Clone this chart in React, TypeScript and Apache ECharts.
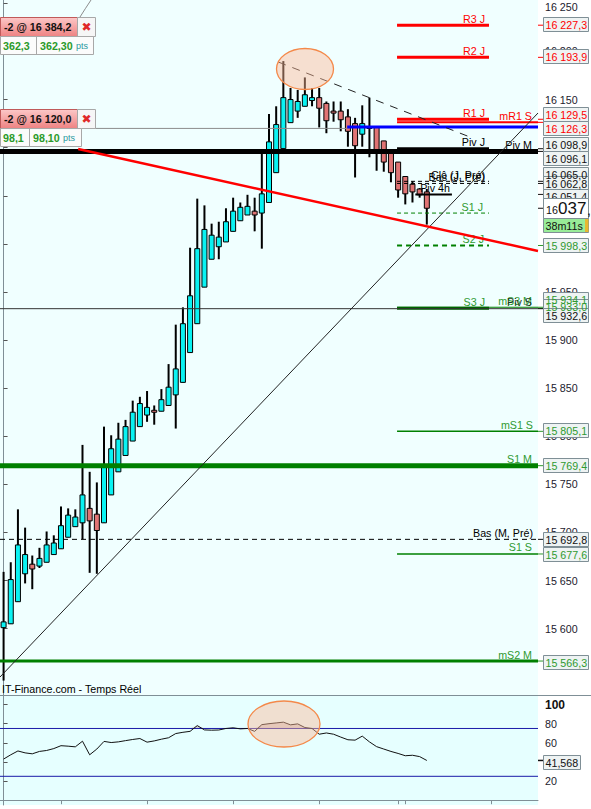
import React, { useEffect, useRef } from 'react';
import * as echarts from 'echarts';

// ---------- data ----------
const slots = Array.from({ length: 75 }, (_, i) => `P${i + 1}`);

const opens = [15601, 15605, 15628, 15657, 15667, 15665, 15669, 15677, 15683, 15695, 15706, 15710, 15725, 15719, 15710, 15739, 15763, 15780, 15795, 15810, 15822, 15827, 15826, 15832, 15843, 15856, 15887, 15917, 15955, 15984, 15997, 16002, 16013, 16024, 16030, 16034, 16032, 16043, 16074, 16099, 16126, 16138, 16143, 16149, 16152, 16146, 16138, 16138, 16132, 16125, 16114, 16121, 16121, 16107, 16096, 16085, 16070, 16062, 16057, 16054];
const closes = [15607, 15651, 15687, 15677, 15662, 15673, 15687, 15689, 15707, 15718, 15716, 15739, 15712, 15702, 15768, 15787, 15797, 15810, 15825, 15834, 15830, 15825, 15838, 15851, 15870, 15917, 15946, 15995, 16015, 16009, 16007, 16023, 16034, 16038, 16039, 16030, 16052, 16106, 16124, 16152, 16150, 16148, 16155, 16152, 16141, 16128, 16137, 16129, 16117, 16102, 16125, 16122, 16096, 16085, 16074, 16056, 16052, 16054, 16051, 16037];
const lows = [15546, 15605, 15628, 15647, 15641, 15663, 15669, 15677, 15683, 15695, 15706, 15693, 15658, 15657, 15710, 15739, 15763, 15780, 15795, 15810, 15815, 15812, 15826, 15832, 15808, 15856, 15887, 15917, 15955, 15984, 15984, 16002, 16013, 16024, 16030, 16013, 15995, 16043, 16074, 16099, 16126, 16131, 16143, 16143, 16121, 16115, 16127, 16117, 16101, 16069, 16101, 16090, 16076, 16075, 16064, 16048, 16041, 16043, 16048, 16020];
const highs = [15659, 15669, 15724, 15705, 15676, 15684, 15701, 15697, 15727, 15725, 15724, 15791, 15763, 15752, 15810, 15801, 15814, 15817, 15837, 15841, 15847, 15832, 15849, 15875, 15916, 15934, 15996, 16047, 16040, 16021, 16023, 16037, 16048, 16043, 16051, 16048, 16096, 16135, 16143, 16190, 16162, 16160, 16173, 16162, 16162, 16148, 16148, 16148, 16140, 16131, 16144, 16152, 16121, 16107, 16096, 16085, 16070, 16065, 16058, 16057];

const rsi = [43, 47.5, 51.5, 49.5, 48.5, 51, 52, 54, 57, 56.5, 55.8, 61.7, 47.5, 53.5, 61.5, 60.3, 61, 62.3, 63.5, 64.5, 60.7, 62, 63.8, 65.3, 69.7, 71, 72, 78, 73.5, 73.2, 73.4, 75, 75.7, 74.6, 75, 72, 79, 80, 80.8, 81.6, 78.8, 79.8, 76, 75, 69, 70.3, 69, 66, 63.2, 62.8, 67, 61, 56, 53.5, 51, 48.9, 46.5, 47, 45.6, 41.568];
const rsiBands = [75, 25];

const priceTicks = [15600, 15650, 15700, 15750, 15800, 15850, 15900, 15950, 16000, 16050, 16100, 16150, 16200, 16250];
const rsiTicks = [20, 40, 60, 80, 100];
const sessionTicks = [8, 20, 32, 44, 55, 56, 68];

const levelNames = ['R3 J', 'R2 J', 'R1 J', 'mR1 S', 'Piv J', 'Piv M', 'Clô (J, Pré)', 'Bas (J, Pré)', 'Piv 4h', 'S1 J', 'S2 J', 'mS3 M', 'S3 J', 'Piv S', 'mS1 S', 'S1 M', 'Bas (M, Pré)', 'S1 S', 'mS2 M'];
const levelValues = [16227.3, 16193.9, 16129.5, 16126.3, 16098.9, 16096.1, 16065.0, 16062.8, 16051.4, 16032.0, 15998.3, 15934.1, 15933.0, 15932.6, 15805.1, 15769.4, 15692.8, 15677.6, 15566.3];

const orderQty = [-2, -2];
const orderPrices = [16384.2, 16120.0];
const orderGains = [362.3, 98.1];

const blueLevel = 16121.5;
const supportX = [-0.5, 74.5];
const supportY = [15549.7, 16136.0];
const resistX = [10.4, 74.5];
const resistY = [16098.6, 15992.6];
const topLineX = [38.3, 65.0];
const topLineY = [16189.0, 16111.1];

const countdown = '38m11s';

// ---------- styles / layout ----------
const FONT = '"Liberation Sans", Arial, sans-serif';
const FS = 10.7;
const RED = '#ff0000';
const BLACK = '#000000';
const GREEN = '#008000';
const GREEN_TXT = '#2f9a2f';
const PRICE_MIN = 15531;
const PRICE_MAX = 16253.5;
const PLOT_W = 538;

const SPAN_J = [54.85, 67.67];
const SPAN_S = [54.85, 74.5];
const SPAN_FULL = [-0.5, 74.5];
const SPAN_4H = [57.4, 62.5];

type LStyle = { color: string; width: number; dash?: number[]; span: number[]; text: string; dx: number };
const levelStyles: LStyle[] = [
  { color: RED, width: 3, span: SPAN_J, text: RED, dx: -4 },
  { color: RED, width: 3, span: SPAN_J, text: RED, dx: -4 },
  { color: RED, width: 3, span: SPAN_J, text: RED, dx: -4 },
  { color: RED, width: 2, span: SPAN_S, text: RED, dx: -6 },
  { color: BLACK, width: 3, span: SPAN_J, text: BLACK, dx: -4 },
  { color: BLACK, width: 5, span: SPAN_FULL, text: BLACK, dx: -6 },
  { color: BLACK, width: 1, dash: [4, 3], span: SPAN_J, text: BLACK, dx: -4 },
  { color: BLACK, width: 1, dash: [4, 3], span: SPAN_J, text: BLACK, dx: -4 },
  { color: BLACK, width: 2, span: SPAN_4H, text: BLACK, dx: -2 },
  { color: GREEN, width: 1, dash: [4, 3], span: SPAN_J, text: GREEN_TXT, dx: -6 },
  { color: GREEN, width: 2, dash: [5, 4], span: SPAN_J, text: GREEN_TXT, dx: -5 },
  { color: GREEN, width: 1, span: SPAN_S, text: GREEN_TXT, dx: -6 },
  { color: '#006400', width: 3, span: SPAN_J, text: GREEN_TXT, dx: -4 },
  { color: '#333333', width: 1, span: SPAN_FULL, text: '#1a3a1a', dx: -6 },
  { color: GREEN, width: 1.5, span: SPAN_S, text: GREEN_TXT, dx: -5 },
  { color: GREEN, width: 5, span: SPAN_FULL, text: GREEN_TXT, dx: -6 },
  { color: BLACK, width: 1, dash: [5, 4], span: SPAN_FULL, text: BLACK, dx: -5 },
  { color: GREEN, width: 1.5, span: SPAN_S, text: GREEN_TXT, dx: -6 },
  { color: GREEN, width: 3, span: SPAN_FULL, text: GREEN_TXT, dx: -6 },
];
// top edge of each price tag on the right scale (stacked so they do not collide)
const tagTops: Record<number, number> = { 0: 17, 1: 49, 2: 107, 3: 121, 4: 137, 5: 151, 6: 167, 7: 176, 8: 189, 10: 238, 11: 292, 12: 299, 13: 308, 14: 423, 15: 458, 16: 532, 17: 547, 18: 655 };

// ---------- helpers ----------
const group3 = (s: string) => s.replace(/\B(?=(\d{3})+(?!\d))/g, ' ');
const fmtInt = (v: number) => group3(String(Math.round(v)));
const fmtDec = (v: number, d: number) => {
  const [i, f] = v.toFixed(d).split('.');
  return group3(i) + (f ? ',' + f : '');
};

function buildOption(): any {
  const levelSeries = levelNames.map((name, k) => {
    const st = levelStyles[k];
    const v = levelValues[k];
    return {
      type: 'line',
      name,
      xAxisIndex: 1,
      yAxisIndex: 0,
      z: 3,
      silent: true,
      symbol: 'circle',
      symbolSize: 0.01,
      itemStyle: { color: 'transparent' },
      lineStyle: { color: st.color, width: st.width, type: st.dash ? st.dash : 'solid' },
      data: [
        [st.span[0], v],
        {
          value: [st.span[1], v],
          label: {
            show: true,
            position: 'top',
            align: 'right',
            distance: 1,
            offset: [st.dx, 0],
            formatter: name,
            color: st.text,
            fontSize: FS,
            fontFamily: FONT,
          },
        },
      ],
    };
  });

  const plainLine = (xs: number[], ys: number[], color: string, width: number, dash?: number[], z = 4) => ({
    type: 'line',
    xAxisIndex: 1,
    yAxisIndex: 0,
    z,
    silent: true,
    showSymbol: false,
    symbol: 'none',
    lineStyle: { color, width, type: dash ? dash : 'solid' },
    data: xs.map((x, i) => [x, ys[i]]),
  });

  const candleData = opens.map((o, i) => [i, o, closes[i], lows[i], highs[i]]);

  return {
    animation: false,
    backgroundColor: '#ffffff',
    textStyle: { fontFamily: FONT },
    grid: [
      { left: 0, top: 0, width: PLOT_W, height: 695, show: true, backgroundColor: '#f0ffff', borderWidth: 0, outerBoundsMode: 'none', containLabel: false },
      { left: 0, top: 695, width: PLOT_W, height: 110, show: true, backgroundColor: '#e6ffff', borderWidth: 0, outerBoundsMode: 'none', containLabel: false },
    ],
    xAxis: [
      { type: 'category', gridIndex: 0, data: slots, boundaryGap: true, show: false },
      { type: 'value', gridIndex: 0, min: -0.5, max: 74.5, show: false },
      {
        type: 'value', gridIndex: 1, min: -0.5, max: 74.5, position: 'bottom',
        axisLine: { show: true, lineStyle: { color: '#7f8f96' } },
        axisTick: { show: true, customValues: sessionTicks, length: 4, lineStyle: { color: '#7f8f96' } },
        axisLabel: { show: false },
        splitLine: { show: false },
      },
    ],
    yAxis: [
      {
        type: 'value', gridIndex: 0, position: 'right', min: PRICE_MIN, max: PRICE_MAX,
        axisLine: { show: true, lineStyle: { color: '#7f8f96' } },
        axisTick: { show: true, customValues: priceTicks, length: 4, lineStyle: { color: '#555' } },
        axisLabel: {
          show: true, customValues: priceTicks, margin: 7, color: '#1c1a2e', fontSize: FS, fontFamily: FONT,
          // the top value sits on the edge, nudge it down so it stays readable
          formatter: (v: number) => (v >= PRICE_MAX - 10 ? `{t|${fmtInt(v)}}` : fmtInt(v)),
          rich: { t: { padding: [7, 0, 0, 0], fontSize: FS, fontFamily: FONT, color: '#1c1a2e' } },
        },
        splitLine: { show: false },
      },
      {
        type: 'value', gridIndex: 1, position: 'right', min: -5, max: 110,
        axisLine: { show: true, lineStyle: { color: '#7f8f96' } },
        axisTick: { show: true, customValues: rsiTicks, length: 4, lineStyle: { color: '#555' } },
        axisLabel: {
          show: true, customValues: rsiTicks, margin: 7, color: '#1c1a2e', fontSize: FS, fontFamily: FONT,
          formatter: (v: number) => (v === 100 ? `{b|${v}}` : String(v)),
          rich: { b: { fontWeight: 'bold', fontSize: 12, color: '#111', fontFamily: FONT } },
        },
        splitLine: { show: false },
      },
    ],
    series: [
      {
        type: 'custom',
        name: 'DAX',
        xAxisIndex: 0,
        yAxisIndex: 0,
        z: 2,
        silent: true,
        encode: { x: 0, y: [1, 2, 3, 4] },
        data: candleData,
        renderItem: (_p: any, api: any) => {
          const i = api.value(0);
          const o = api.value(1);
          const c = api.value(2);
          const l = api.value(3);
          const h = api.value(4);
          const pO = api.coord([i, o]);
          const pC = api.coord([i, c]);
          const pH = api.coord([i, h]);
          const pL = api.coord([i, l]);
          const x = pO[0];
          const top = Math.min(pO[1], pC[1]);
          const bot = Math.max(pO[1], pC[1]);
          return {
            type: 'group',
            children: [
              { type: 'line', shape: { x1: x, y1: pH[1], x2: x, y2: pL[1] }, style: { stroke: '#000', lineWidth: 2 } },
              {
                type: 'rect',
                shape: { x: x - 2.5, y: top, width: 5, height: Math.max(bot - top, 2) },
                style: { fill: c >= o ? '#0af2f2' : '#e07474', stroke: '#000', lineWidth: 1 },
              },
            ],
          };
        },
      },
      plainLine([-0.5, 47.9], [orderPrices[1], orderPrices[1]], '#8c8c8c', 1, undefined, 3),
      plainLine([47.9, 74.5], [blueLevel, blueLevel], '#0000ff', 3, undefined, 3),
      ...levelSeries,
      plainLine(supportX, supportY, '#222222', 1, undefined, 5),
      plainLine(resistX, resistY, '#ff0000', 2.5, undefined, 5),
      plainLine(topLineX, topLineY, '#222222', 1, [8, 7], 5),
      // RSI panel
      {
        type: 'line', xAxisIndex: 2, yAxisIndex: 1, silent: true, symbol: 'none', z: 2,
        lineStyle: { width: 0 },
        areaStyle: { origin: rsiBands[0], color: 'rgba(150,70,70,0.32)' },
        data: rsi.map((v, i) => [i, Math.max(v, rsiBands[0])]),
      },
      ...rsiBands.map((b) => ({
        type: 'line', xAxisIndex: 2, yAxisIndex: 1, silent: true, symbol: 'none', z: 3,
        lineStyle: { color: '#1a1aa8', width: 1 },
        data: [[-0.5, b], [74.5, b]],
      })),
      {
        type: 'line', name: 'RSI', xAxisIndex: 2, yAxisIndex: 1, silent: true, symbol: 'none', z: 4,
        lineStyle: { color: '#111', width: 1 },
        data: rsi.map((v, i) => [i, v]),
      },
    ],
  };
}

function buildGraphics(chart: any): any[] {
  const yPrice = (v: number) => chart.convertToPixel({ yAxisIndex: 0 }, v);
  const yRsi = (v: number) => chart.convertToPixel({ yAxisIndex: 1 }, v);
  const els: any[] = [];
  const Z = 100;

  // panel separator and caption
  els.push({ type: 'line', z: Z, shape: { x1: 0, y1: 695.5, x2: 591, y2: 695.5 }, style: { stroke: '#7f8f96', lineWidth: 1 } });
  els.push({ type: 'text', z: Z, style: { text: 'IT-Finance.com - Temps Réel', x: 2, y: 689, font: `${FS}px ${FONT}`, fill: '#000', textVerticalAlign: 'middle', verticalAlign: 'middle' } });

  // highlight ellipses
  const ell = (cx: number, cy: number, rx: number, ry: number) => ({
    type: 'ellipse', z: Z - 10, shape: { cx, cy, rx, ry },
    style: { fill: 'rgba(252,185,150,0.45)', stroke: '#f4894a', lineWidth: 1.3 },
  });
  els.push(ell(305, 69, 28.5, 20.5));
  els.push(ell(284, 724, 36, 23));

  // price tags on the right scale
  const tagColor = (k: number) => (k <= 3 ? RED : [4, 5, 6, 7, 8, 13, 16].includes(k) ? '#111' : GREEN_TXT);
  Object.keys(tagTops).map(Number).sort((a, b) => a - b).forEach((k) => {
    const top = tagTops[k];
    const col = tagColor(k);
    const yv = yPrice(levelValues[k]);
    els.push({ type: 'line', z: Z, shape: { x1: 538, y1: yv, x2: 543, y2: yv }, style: { stroke: col, lineWidth: 1 } });
    els.push({ type: 'rect', z: Z, shape: { x: 543.5, y: top + 0.5, width: 45, height: 14 }, style: { fill: '#eef3f3', stroke: '#7f8f96', lineWidth: 1 } });
    els.push({ type: 'text', z: Z + 1, style: { text: fmtDec(levelValues[k], 1), x: 545.5, y: top + 8, font: `${FS}px ${FONT}`, fill: col, textVerticalAlign: 'middle', verticalAlign: 'middle' } });
  });

  // last price tag
  const last = closes[closes.length - 1];
  const lastStr = fmtInt(last).split(' ');
  const yl = yPrice(last);
  els.push({ type: 'line', z: Z, shape: { x1: 538, y1: yl, x2: 543, y2: yl }, style: { stroke: '#111', lineWidth: 1 } });
  els.push({ type: 'rect', z: Z + 2, shape: { x: 543.5, y: 198.5, width: 45, height: 20 }, style: { fill: '#ffffff', stroke: '#7f8f96', lineWidth: 1 } });
  els.push({ type: 'text', z: Z + 3, style: { text: lastStr[0], x: 546, y: 209.5, font: `${FS}px ${FONT}`, fill: '#111', textVerticalAlign: 'middle', verticalAlign: 'middle' } });
  els.push({ type: 'text', z: Z + 3, style: { text: lastStr[1], x: 558, y: 208, font: `17px ${FONT}`, fill: '#111', textVerticalAlign: 'middle', verticalAlign: 'middle' } });
  els.push({ type: 'text', z: Z + 3, style: { text: ',', x: 587, y: 210, font: `14px ${FONT}`, fill: '#111', textVerticalAlign: 'middle', verticalAlign: 'middle' } });
  // countdown tag
  els.push({ type: 'rect', z: Z + 2, shape: { x: 543.5, y: 218.5, width: 45, height: 14 }, style: { fill: '#98ec98', stroke: '#7f8f96', lineWidth: 1 } });
  els.push({ type: 'rect', z: Z + 3, shape: { x: 585, y: 219, width: 3.5, height: 13 }, style: { fill: '#e8b830' } });
  els.push({ type: 'text', z: Z + 3, style: { text: countdown, x: 545.5, y: 226, font: `${FS}px ${FONT}`, fill: '#111', textVerticalAlign: 'middle', verticalAlign: 'middle' } });

  // RSI value tag
  const rLast = rsi[rsi.length - 1];
  const yr = yRsi(rLast);
  els.push({ type: 'line', z: Z, shape: { x1: 538, y1: yr, x2: 543, y2: yr }, style: { stroke: '#111', lineWidth: 1.5 } });
  els.push({ type: 'rect', z: Z + 2, shape: { x: 543.5, y: 755.5, width: 37, height: 14 }, style: { fill: '#eef3f3', stroke: '#7f8f96', lineWidth: 1 } });
  els.push({ type: 'text', z: Z + 3, style: { text: fmtDec(rLast, 3), x: 545.5, y: 763, font: `${FS}px ${FONT}`, fill: '#111', textVerticalAlign: 'middle', verticalAlign: 'middle' } });

  // open order panels (top left)
  const redFill = { type: 'linear', x: 0, y: 0, x2: 0, y2: 1, colorStops: [{ offset: 0, color: '#fcc8c8' }, { offset: 1, color: '#ee8282' }] };
  const orderTops = [17, 109];
  const lowerW = [93, 81];
  const divX = [36, 29];
  orderTops.forEach((top, k) => {
    els.push({ type: 'rect', z: Z, shape: { x: 0.5, y: top + 0.5, width: 77, height: 19 }, style: { fill: redFill, stroke: '#c05a5a', lineWidth: 1 } });
    els.push({ type: 'rect', z: Z, shape: { x: 77.5, y: top + 0.5, width: 18, height: 19 }, style: { fill: '#f6f6f6', stroke: '#a8a8a8', lineWidth: 1 } });
    els.push({ type: 'rect', z: Z, shape: { x: 0.5, y: top + 19.5, width: lowerW[k], height: 18 }, style: { fill: '#fbfbfb', stroke: '#a8a8a8', lineWidth: 1 } });
    els.push({ type: 'line', z: Z + 1, shape: { x1: divX[k] + 0.5, y1: top + 19.5, x2: divX[k] + 0.5, y2: top + 37.5 }, style: { stroke: '#a8a8a8', lineWidth: 1 } });
    els.push({ type: 'text', z: Z + 1, style: { text: `${orderQty[k]} @ ${fmtDec(orderPrices[k], 1)}`, x: 4, y: top + 10, font: `bold ${FS}px ${FONT}`, fill: '#111', textVerticalAlign: 'middle', verticalAlign: 'middle' } });
    els.push({ type: 'text', z: Z + 1, style: { text: '✖', x: 86.5, y: top + 10, font: `bold 12px "DejaVu Sans", sans-serif`, fill: '#e02828', textAlign: 'center', align: 'center', textVerticalAlign: 'middle', verticalAlign: 'middle' } });
    els.push({ type: 'text', z: Z + 1, style: { text: fmtDec(orderGains[k], 1), x: 3, y: top + 28.5, font: `bold ${FS}px ${FONT}`, fill: '#2a9a2a', textVerticalAlign: 'middle', verticalAlign: 'middle' } });
    els.push({
      type: 'text', z: Z + 1,
      style: {
        text: `{a|${fmtDec(orderGains[k], 2)}} {b|pts}`, x: divX[k] + 4, y: top + 28.5, textVerticalAlign: 'middle', verticalAlign: 'middle',
        rich: { a: { font: `bold ${FS}px ${FONT}`, fill: '#2a9a2a', color: '#2a9a2a' }, b: { font: `9px ${FONT}`, fill: '#2a9aa0', color: '#2a9aa0' } },
      },
    });
  });
  // link from the upper order to its level above the visible range
  els.push({ type: 'bezierCurve', z: Z, shape: { x1: 80, y1: 17, cpx1: 85, cpy1: 9, x2: 91, y2: 0 }, style: { stroke: '#8c8c8c', lineWidth: 1, fill: 'none' } });

  return els;
}

export default function App() {
  const ref = useRef<HTMLDivElement>(null);
  useEffect(() => {
    const el = ref.current;
    if (!el) return;
    const chart = echarts.init(el, null, { renderer: 'svg' });
    chart.setOption(buildOption());
    chart.setOption({ graphic: { elements: buildGraphics(chart) } });
    return () => chart.dispose();
  }, []);
  return <div ref={ref} style={{ position: 'fixed', left: 0, top: 0, width: 591, height: 809, background: '#ffffff' }} />;
}
